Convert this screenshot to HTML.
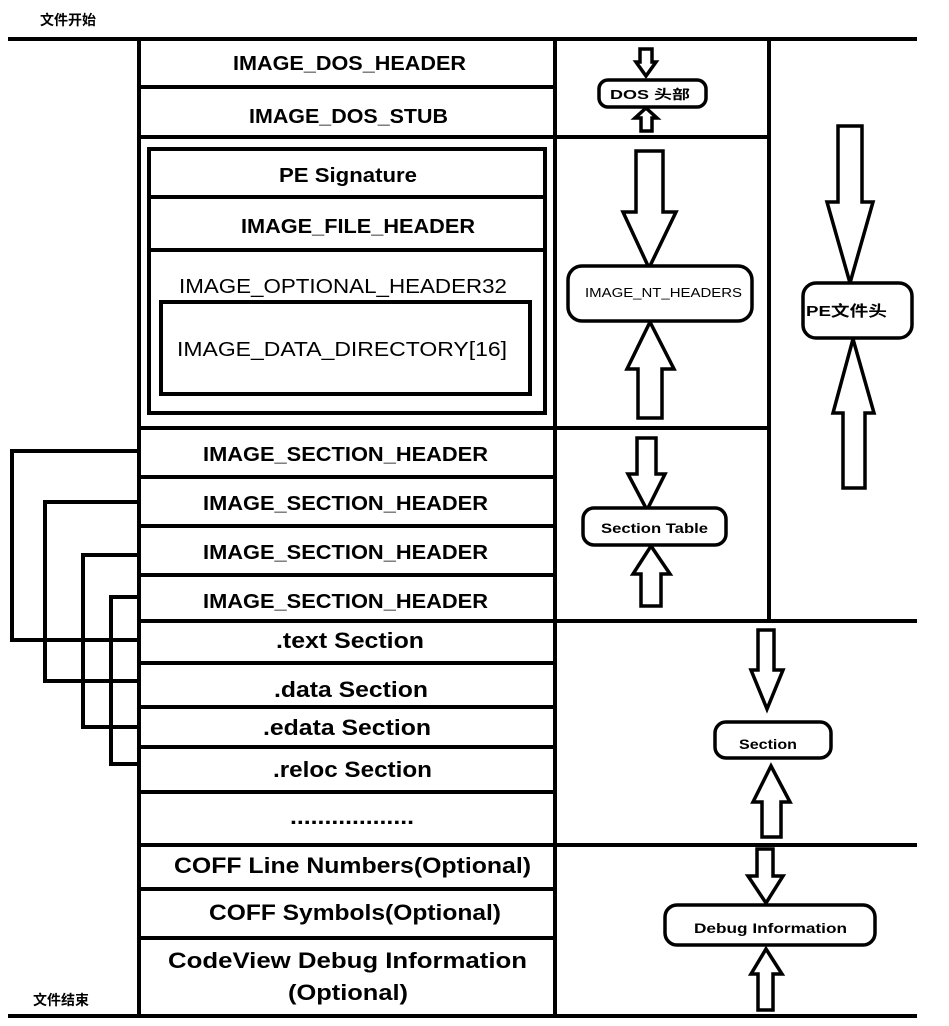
<!DOCTYPE html>
<html><head><meta charset="utf-8"><style>
html,body{margin:0;padding:0;background:#fff;}
svg{display:block;}
text{font-family:"Liberation Sans","Noto Sans CJK SC",sans-serif;fill:#000;}
.b{font-weight:bold;}
</style></head><body>
<svg width="949" height="1026" viewBox="0 0 949 1026" xmlns="http://www.w3.org/2000/svg">
<g stroke="#000" fill="none" stroke-width="4">
<!-- top/bottom lines -->
<line x1="8" y1="39" x2="917" y2="39"/>
<line x1="8" y1="1016" x2="917" y2="1016"/>
<!-- left column verticals -->
<line x1="139" y1="39" x2="139" y2="1016"/>
<line x1="555" y1="39" x2="555" y2="1016"/>
<!-- row lines -->
<line x1="139" y1="87" x2="555" y2="87"/>
<line x1="139" y1="137" x2="770" y2="137"/>
<line x1="139" y1="428" x2="770" y2="428"/>
<line x1="139" y1="477" x2="555" y2="477"/>
<line x1="139" y1="526" x2="555" y2="526"/>
<line x1="139" y1="575" x2="555" y2="575"/>
<line x1="139" y1="621" x2="917" y2="621"/>
<line x1="139" y1="663" x2="555" y2="663"/>
<line x1="139" y1="707" x2="555" y2="707"/>
<line x1="139" y1="747" x2="555" y2="747"/>
<line x1="139" y1="792" x2="555" y2="792"/>
<line x1="139" y1="845" x2="917" y2="845"/>
<line x1="139" y1="889" x2="555" y2="889"/>
<line x1="139" y1="938" x2="555" y2="938"/>
<!-- right column vertical -->
<line x1="769" y1="39" x2="769" y2="621"/>
<!-- PE inner box -->
<rect x="149" y="149" width="396" height="264" stroke-width="4"/>
<line x1="149" y1="197" x2="545" y2="197"/>
<line x1="149" y1="250" x2="545" y2="250"/>
<rect x="161" y="302" width="369" height="92" stroke-width="4"/>
<!-- connectors -->
<polyline points="139,451 12,451 12,640 139,640"/>
<polyline points="139,502 45,502 45,681 139,681"/>
<polyline points="139,555 83,555 83,727 139,727"/>
<polyline points="139,597 111,597 111,764 139,764"/>
</g>
<g stroke="#000" fill="#fff" stroke-width="3.5" stroke-linejoin="miter">
<!-- DOS arrows -->
<polygon points="640,49 652,49 652,62 656,62 646,76 636,62 640,62"/>
<polygon points="646,108 657,118 652,118 652,131 641,131 641,118 635,118"/>
<rect x="599" y="80" width="107" height="27" rx="9"/>
<!-- NT arrows -->
<polygon points="636,151 663,151 663,212 676,212 649,268 623,212 636,212"/>
<polygon points="650,322 674,369 662,369 662,418 638,418 638,369 627,369"/>
<rect x="568" y="266" width="184" height="55" rx="14"/>
<!-- Section table -->
<polygon points="637,438 656,438 656,474 665,474 647,510 628,474 637,474"/>
<polygon points="651,546 670,574 661,574 661,606 641,606 641,574 633,574"/>
<rect x="583" y="508" width="143" height="37" rx="11"/>
<!-- PE file head -->
<polygon points="838,126 862,126 862,202 873,202 850,283 827,202 838,202"/>
<polygon points="853,339 874,413 865,413 865,488 843,488 843,413 833,413"/>
<rect x="803" y="283" width="109" height="55" rx="13"/>
<!-- Section -->
<polygon points="758,630 774,630 774,670 783,670 767,709 751,670 758,670"/>
<polygon points="771,766 790,802 781,802 781,837 762,837 762,802 753,802"/>
<rect x="715" y="722" width="116" height="36" rx="11"/>
<!-- Debug -->
<polygon points="757,849 773,849 773,876 783,876 766,903 748,876 757,876"/>
<polygon points="766,949 782,974 773,974 773,1010 758,1010 758,974 751,974"/>
<rect x="665" y="905" width="210" height="40" rx="12"/>
</g>
<!-- labels -->
<text x="40" y="25" class="b" font-size="14">文件开始</text>
<text x="33" y="1005" class="b" font-size="14">文件结束</text>
<g font-size="20" class="b" text-anchor="start">
<text x="233" y="70" textLength="233" lengthAdjust="spacingAndGlyphs">IMAGE_DOS_HEADER</text>
<text x="249" y="123" textLength="199" lengthAdjust="spacingAndGlyphs">IMAGE_DOS_STUB</text>
<text x="279" y="182" textLength="138" lengthAdjust="spacingAndGlyphs">PE Signature</text>
<text x="241" y="233" textLength="234" lengthAdjust="spacingAndGlyphs">IMAGE_FILE_HEADER</text>
<text x="179" y="293" textLength="328" lengthAdjust="spacingAndGlyphs" font-weight="normal">IMAGE_OPTIONAL_HEADER32</text>
<text x="177" y="356" textLength="330" lengthAdjust="spacingAndGlyphs" font-weight="normal">IMAGE_DATA_DIRECTORY[16]</text>
<text x="203" y="461" textLength="285" lengthAdjust="spacingAndGlyphs">IMAGE_SECTION_HEADER</text>
<text x="203" y="510" textLength="285" lengthAdjust="spacingAndGlyphs">IMAGE_SECTION_HEADER</text>
<text x="203" y="559" textLength="285" lengthAdjust="spacingAndGlyphs">IMAGE_SECTION_HEADER</text>
<text x="203" y="608" textLength="285" lengthAdjust="spacingAndGlyphs">IMAGE_SECTION_HEADER</text>
</g>
<g font-size="22" class="b">
<text x="276" y="648" textLength="148" lengthAdjust="spacingAndGlyphs">.text Section</text>
<text x="274" y="697" textLength="154" lengthAdjust="spacingAndGlyphs">.data Section</text>
<text x="263" y="735" textLength="168" lengthAdjust="spacingAndGlyphs">.edata Section</text>
<text x="273" y="777" textLength="159" lengthAdjust="spacingAndGlyphs">.reloc Section</text>
<text x="290" y="824" textLength="124" lengthAdjust="spacingAndGlyphs">..................</text>
<text x="174" y="873" textLength="357" lengthAdjust="spacingAndGlyphs">COFF Line Numbers(Optional)</text>
<text x="209" y="920" textLength="292" lengthAdjust="spacingAndGlyphs">COFF Symbols(Optional)</text>
<text x="168" y="968" textLength="359" lengthAdjust="spacingAndGlyphs">CodeView Debug Information</text>
<text x="288" y="1000" textLength="120" lengthAdjust="spacingAndGlyphs">(Optional)</text>
</g>
<text x="610" y="99" font-size="13" class="b" textLength="80" lengthAdjust="spacingAndGlyphs">DOS 头部</text>
<text x="585" y="297" font-size="13" textLength="157" lengthAdjust="spacingAndGlyphs">IMAGE_NT_HEADERS</text>
<text x="601" y="533" font-size="14" class="b" textLength="107" lengthAdjust="spacingAndGlyphs">Section Table</text>
<text x="806" y="316" font-size="15" class="b" textLength="81" lengthAdjust="spacingAndGlyphs">PE文件头</text>
<text x="739" y="749" font-size="14" class="b" textLength="58" lengthAdjust="spacingAndGlyphs">Section</text>
<text x="694" y="933" font-size="14" class="b" textLength="153" lengthAdjust="spacingAndGlyphs">Debug Information</text>
</svg>
</body></html>
